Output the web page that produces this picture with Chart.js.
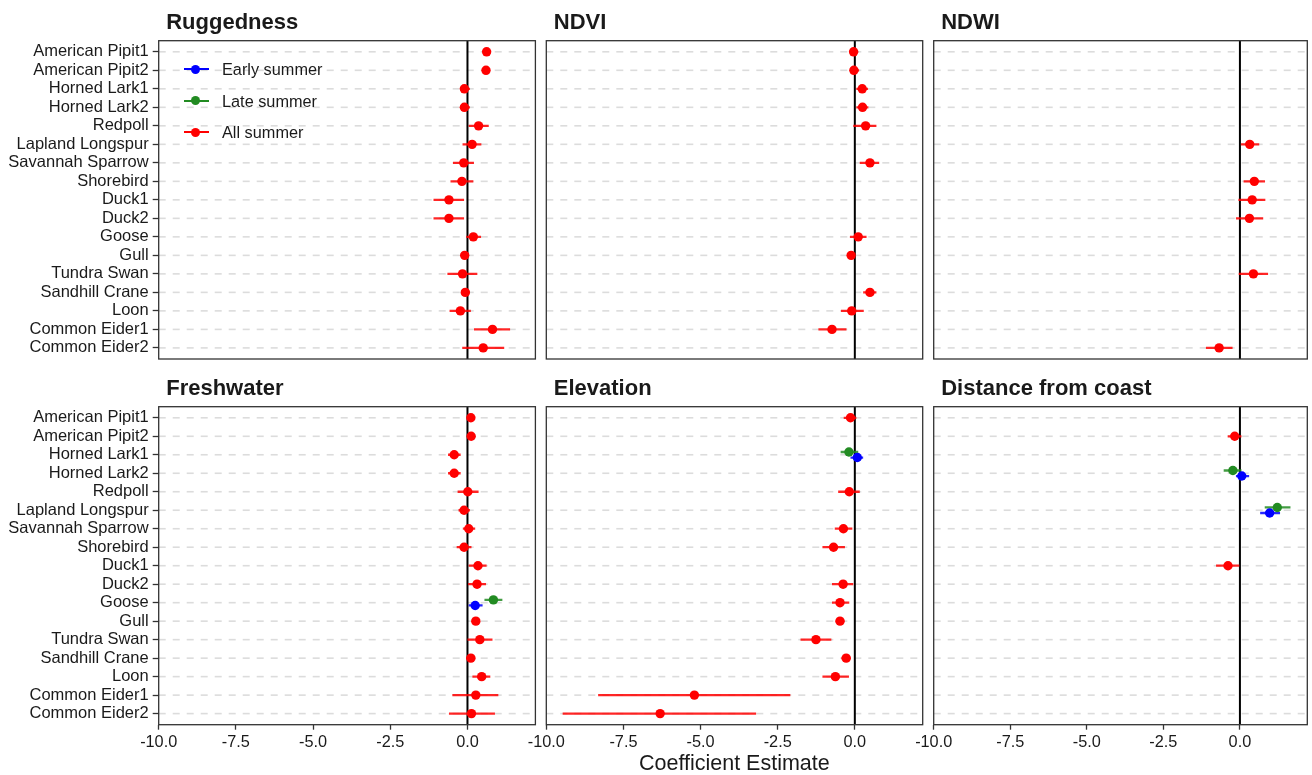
<!DOCTYPE html>
<html><head><meta charset="utf-8">
<script src="https://cdn.jsdelivr.net/npm/chart.js@4.4.1/dist/chart.umd.min.js"></script>
<style>
html,body{margin:0;padding:0;background:#fff;}
#wrap{position:relative;width:1312px;height:775px;overflow:hidden;font-family:"Liberation Sans",Arial,sans-serif;color:#1a1a1a;}
#wrap canvas{position:absolute;left:0;top:0;}
.ptitle{position:absolute;font-weight:bold;font-size:22px;line-height:22px;white-space:nowrap;}
.xtitle{position:absolute;font-size:21.5px;line-height:21.5px;white-space:nowrap;transform:translateX(-50%);}
.lgtext{position:absolute;font-size:16.3px;line-height:16px;white-space:nowrap;}
.lgline{position:absolute;height:2.2px;}
.lgdot{position:absolute;width:9.4px;height:9.4px;border-radius:50%;}
</style></head>
<body><div id="wrap"></div>
<script>
// ---------- data ----------
const species = ["American Pipit1","American Pipit2","Horned Lark1","Horned Lark2","Redpoll","Lapland Longspur","Savannah Sparrow","Shorebird","Duck1","Duck2","Goose","Gull","Tundra Swan","Sandhill Crane","Loon","Common Eider1","Common Eider2"];
const xTickValues = [-10, -7.5, -5, -2.5, 0];
const seriesNames = ["Early summer", "Late summer", "All summer"];
const seriesColors = ["#0000FF", "#228B22", "#FF0000"];
const panelTitles = ["Ruggedness", "NDVI", "NDWI", "Freshwater", "Elevation", "Distance from coast"];

// Ruggedness (All summer)
const rugEst = [0.62,0.60,-0.10,-0.10,0.36,0.15,-0.12,-0.18,-0.60,-0.60,0.19,-0.09,-0.16,-0.07,-0.23,0.81,0.51];
const rugLo  = [0.50,0.49,-0.21,-0.21,0.04,-0.16,-0.47,-0.55,-1.10,-1.10,-0.04,-0.18,-0.65,-0.18,-0.58,0.21,-0.17];
const rugHi  = [0.72,0.71,0.08,0.08,0.69,0.45,0.21,0.19,-0.11,-0.11,0.44,0.02,0.32,0.08,0.11,1.38,1.19];

// NDVI (All summer)
const ndviEst = [-0.04,-0.03,0.24,0.25,0.35,null,0.49,null,null,null,0.11,-0.12,null,0.49,-0.10,-0.74,null];
const ndviLo  = [-0.16,-0.16,0.05,0.05,-0.05,null,0.16,null,null,null,-0.16,-0.25,null,0.27,-0.45,-1.18,null];
const ndviHi  = [0.11,0.14,0.43,0.44,0.70,null,0.79,null,null,null,0.38,-0.03,null,0.70,0.29,-0.27,null];

// NDWI (All summer)
const ndwiEst = [null,null,null,null,null,0.32,null,0.47,0.40,0.31,null,null,0.44,null,null,null,-0.68];
const ndwiLo  = [null,null,null,null,null,0.03,null,0.12,-0.05,-0.13,null,null,-0.04,null,null,null,-1.11];
const ndwiHi  = [null,null,null,null,null,0.63,null,0.82,0.83,0.76,null,null,0.92,null,null,null,-0.24];

// Freshwater
const freshEst = [0.11,0.12,-0.43,-0.43,0.01,-0.11,0.04,-0.11,0.34,0.31,null,0.27,0.40,0.11,0.46,0.27,0.13];
const freshLo  = [0.00,0.01,-0.63,-0.63,-0.32,-0.29,-0.15,-0.35,0.04,0.02,null,0.16,0.00,-0.04,0.16,-0.49,-0.60];
const freshHi  = [0.22,0.24,-0.22,-0.22,0.36,0.08,0.25,0.13,0.62,0.60,null,0.38,0.81,0.25,0.74,1.00,0.89];
const freshEarlyEst = [null,null,null,null,null,null,null,null,null,null,0.25,null,null,null,null,null,null];
const freshEarlyLo  = [null,null,null,null,null,null,null,null,null,null,0.04,null,null,null,null,null,null];
const freshEarlyHi  = [null,null,null,null,null,null,null,null,null,null,0.49,null,null,null,null,null,null];
const freshLateEst  = [null,null,null,null,null,null,null,null,null,null,0.84,null,null,null,null,null,null];
const freshLateLo   = [null,null,null,null,null,null,null,null,null,null,0.55,null,null,null,null,null,null];
const freshLateHi   = [null,null,null,null,null,null,null,null,null,null,1.13,null,null,null,null,null,null];

// Elevation
const elevEst = [-0.14,null,null,null,-0.18,null,-0.37,-0.69,null,-0.38,-0.48,-0.48,-1.26,-0.28,-0.63,-5.20,-6.31];
const elevLo  = [-0.36,null,null,null,-0.54,null,-0.65,-1.05,null,-0.74,-0.74,-0.62,-1.76,-0.43,-1.05,-8.32,-9.47];
const elevHi  = [0.05,null,null,null,0.16,null,-0.08,-0.32,null,-0.05,-0.18,-0.34,-0.76,-0.14,-0.19,-2.09,-3.20];
const elevEarlyEst = [null,null,0.08,null,null,null,null,null,null,null,null,null,null,null,null,null,null];
const elevEarlyLo  = [null,null,-0.14,null,null,null,null,null,null,null,null,null,null,null,null,null,null];
const elevEarlyHi  = [null,null,0.27,null,null,null,null,null,null,null,null,null,null,null,null,null,null];
const elevLateEst  = [null,null,-0.19,null,null,null,null,null,null,null,null,null,null,null,null,null,null];
const elevLateLo   = [null,null,-0.46,null,null,null,null,null,null,null,null,null,null,null,null,null,null];
const elevLateHi   = [null,null,0.11,null,null,null,null,null,null,null,null,null,null,null,null,null,null];

// Distance from coast
const distEst = [null,-0.17,null,null,null,null,null,null,-0.39,null,null,null,null,null,null,null,null];
const distLo  = [null,-0.40,null,null,null,null,null,null,-0.78,null,null,null,null,null,null,null,null];
const distHi  = [null,0.05,null,null,null,null,null,null,-0.02,null,null,null,null,null,null,null,null];
const distEarlyEst = [null,null,null,0.06,null,0.97,null,null,null,null,null,null,null,null,null,null,null];
const distEarlyLo  = [null,null,null,-0.13,null,0.66,null,null,null,null,null,null,null,null,null,null,null];
const distEarlyHi  = [null,null,null,0.30,null,1.31,null,null,null,null,null,null,null,null,null,null,null];
const distLateEst  = [null,null,null,-0.23,null,1.22,null,null,null,null,null,null,null,null,null,null,null];
const distLateLo   = [null,null,null,-0.53,null,0.81,null,null,null,null,null,null,null,null,null,null,null];
const distLateHi   = [null,null,null,0.05,null,1.65,null,null,null,null,null,null,null,null,null,null,null];

// ---------- layout ----------
const W = 1312, H = 775;
const colLeft = [158.7, 546.3, 933.7];
const colRight = [535.4, 922.7, 1310];
const rowTop = [40.7, 406.7];
const rowBottom = [359, 724.7];
const X_AXIS_H = 30;
const FONT = '"Liberation Sans", Arial, sans-serif';
const dodge = [0.15, -0.15, 0]; // early below, late above

const panels = [
  {row:0,col:0, s:[null,null,[rugEst,rugLo,rugHi]]},
  {row:0,col:1, s:[null,null,[ndviEst,ndviLo,ndviHi]]},
  {row:0,col:2, s:[null,null,[ndwiEst,ndwiLo,ndwiHi]]},
  {row:1,col:0, s:[[freshEarlyEst,freshEarlyLo,freshEarlyHi],[freshLateEst,freshLateLo,freshLateHi],[freshEst,freshLo,freshHi]]},
  {row:1,col:1, s:[[elevEarlyEst,elevEarlyLo,elevEarlyHi],[elevLateEst,elevLateLo,elevLateHi],[elevEst,elevLo,elevHi]]},
  {row:1,col:2, s:[[distEarlyEst,distEarlyLo,distEarlyHi],[distLateEst,distLateLo,distLateHi],[distEst,distLo,distHi]]}
];

function hexToRgba(hex, a){
  const n = parseInt(hex.slice(1),16);
  return `rgba(${(n>>16)&255},${(n>>8)&255},${n&255},${a})`;
}

const forestPlugin = {
  id:'forest',
  beforeDatasetsDraw(chart){
    const {ctx, chartArea:a, scales:{x,y}} = chart;
    ctx.save();
    ctx.beginPath(); ctx.rect(a.left, a.top, a.right-a.left, a.bottom-a.top); ctx.clip();
    ctx.strokeStyle = '#dcdcdc'; ctx.lineWidth = 1.6; ctx.setLineDash([7,7]);
    species.forEach((s,i)=>{
      const py = y.getPixelForValue(i);
      ctx.beginPath(); ctx.moveTo(a.left, py); ctx.lineTo(a.right, py); ctx.stroke();
    });
    ctx.setLineDash([]);
    const px0 = x.getPixelForValue(0);
    ctx.strokeStyle = '#000'; ctx.lineWidth = 2;
    ctx.beginPath(); ctx.moveTo(px0, a.top); ctx.lineTo(px0, a.bottom); ctx.stroke();
    chart.data.datasets.forEach(ds=>{
      ctx.strokeStyle = ds.barColor; ctx.lineWidth = 2.3;
      ds.data.forEach(p=>{
        const py = y.getPixelForValue(p.y);
        ctx.beginPath(); ctx.moveTo(x.getPixelForValue(p.lo), py); ctx.lineTo(x.getPixelForValue(p.hi), py); ctx.stroke();
      });
    });
    ctx.restore();
  },
  afterDraw(chart){
    const {ctx, chartArea:a} = chart;
    ctx.save();
    ctx.strokeStyle = '#333'; ctx.lineWidth = 1.3;
    ctx.strokeRect(a.left, a.top, a.right-a.left, a.bottom-a.top);
    ctx.restore();
  }
};

const wrap = document.getElementById('wrap');

panels.forEach((p, k)=>{
  const isLeft = p.col === 0, isBottom = p.row === 1;
  const cv = document.createElement('canvas');
  cv.width = W; cv.height = H; cv.style.width = W+'px'; cv.style.height = H+'px';
  wrap.appendChild(cv);

  const datasets = [];
  p.s.forEach((ser, si)=>{
    if(!ser) return;
    const [est, lo, hi] = ser;
    const data = [];
    est.forEach((v,i)=>{ if(v!==null) data.push({x:v, y:i+dodge[si], lo:lo[i], hi:hi[i]}); });
    datasets.push({
      label: seriesNames[si], data,
      pointRadius:4.7, pointHoverRadius:4.7, pointBorderWidth:0,
      backgroundColor: seriesColors[si], borderColor: seriesColors[si],
      barColor: hexToRgba(seriesColors[si], 0.85)
    });
  });

  const padding = {
    left: isLeft ? 0 : colLeft[p.col],
    right: W - colRight[p.col],
    top: rowTop[p.row],
    bottom: isBottom ? (H - rowBottom[p.row] - X_AXIS_H) : (H - rowBottom[p.row])
  };

  const xScale = {
    type:'linear', min:-10, max:2.2, display:isBottom,
    afterBuildTicks: s=>{ s.ticks = xTickValues.map(v=>({value:v})); },
    ticks:{autoSkip:false, maxRotation:0, minRotation:0, padding:3, color:'#1a1a1a', font:{family:FONT, size:16.3},
      callback: v => Number(v).toFixed(1)},
    grid:{drawOnChartArea:false, drawTicks:true, tickLength:5, tickColor:'#333', tickWidth:1.3},
    border:{display:false}
  };
  if(isBottom) xScale.afterFit = s=>{ s.height = X_AXIS_H; };

  const yScale = {
    type:'linear', reverse:true, min:-0.6, max:16.6, display:isLeft,
    afterBuildTicks: s=>{ s.ticks = species.map((_,i)=>({value:i})); },
    ticks:{autoSkip:false, padding:4, color:'#1a1a1a', font:{family:FONT, size:16.5},
      callback: v => species[v]},
    grid:{drawOnChartArea:false, drawTicks:true, tickLength:6, tickColor:'#333', tickWidth:1.3},
    border:{display:false}
  };
  if(isLeft) yScale.afterFit = s=>{ s.width = colLeft[0]; };

  new Chart(cv, {
    type:'scatter',
    data:{datasets},
    options:{
      responsive:false, animation:false, devicePixelRatio:1, events:[],
      layout:{padding},
      plugins:{legend:{display:false}, tooltip:{enabled:false}, title:{display:false}},
      scales:{x:xScale, y:yScale}
    },
    plugins:[forestPlugin]
  });

  const t = document.createElement('div');
  t.className = 'ptitle';
  t.textContent = panelTitles[k];
  t.style.left = (colLeft[p.col] + 7.5) + 'px';
  t.style.top = (rowTop[p.row] - 10.7 - 18.6) + 'px';
  wrap.appendChild(t);
});

// axis title
const xt = document.createElement('div');
xt.className = 'xtitle';
xt.textContent = 'Coefficient Estimate';
xt.style.left = ((colLeft[0] + colRight[2]) / 2) + 'px';
xt.style.top = (770.7 - 18.2) + 'px';
wrap.appendChild(xt);

// legend (inside Ruggedness panel)
const legendY = [69.3, 100.7, 132.3];
seriesNames.forEach((name, i)=>{
  const ln = document.createElement('div');
  ln.className = 'lgline';
  ln.style.left = '183.5px'; ln.style.width = '25.5px';
  ln.style.top = (legendY[i] - 1.1) + 'px';
  ln.style.background = seriesColors[i];
  wrap.appendChild(ln);
  const dt = document.createElement('div');
  dt.className = 'lgdot';
  dt.style.left = (195.6 - 4.7) + 'px';
  dt.style.top = (legendY[i] - 4.7) + 'px';
  dt.style.background = seriesColors[i];
  wrap.appendChild(dt);
  const tx = document.createElement('div');
  tx.className = 'lgtext';
  tx.textContent = name;
  tx.style.left = '222px';
  tx.style.top = (legendY[i] - 8) + 'px';
  wrap.appendChild(tx);
});
</script>
</body></html>
